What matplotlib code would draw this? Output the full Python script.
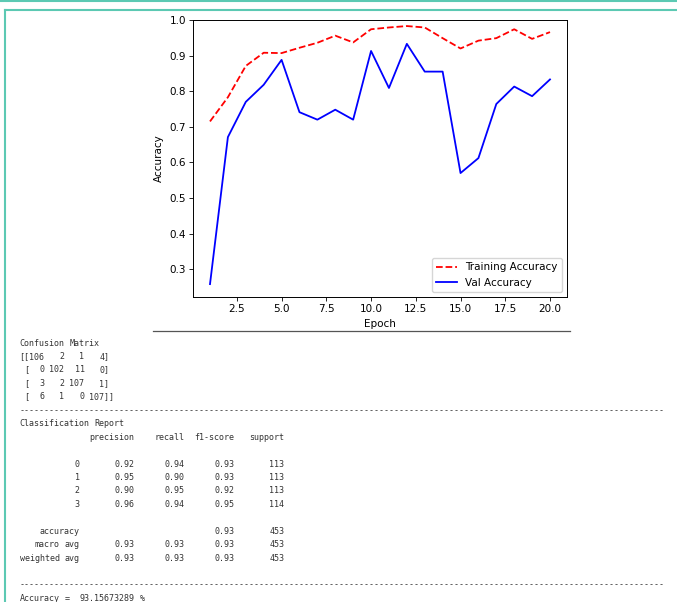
import re
import matplotlib
matplotlib.use("Agg")
import matplotlib.pyplot as plt
from matplotlib.lines import Line2D

# Données
epochs = list(range(1, 21))
train_acc = [0.715, 0.783, 0.871, 0.908, 0.907, 0.922, 0.936, 0.956, 0.937, 0.974,
             0.979, 0.983, 0.979, 0.949, 0.920, 0.942, 0.949, 0.974, 0.947, 0.966]
val_acc = [0.258, 0.671, 0.770, 0.818, 0.888, 0.741, 0.720, 0.748, 0.720, 0.913,
           0.809, 0.933, 0.855, 0.855, 0.570, 0.612, 0.764, 0.813, 0.786, 0.833]

conf_matrix = [[106, 2, 1, 4],
               [0, 102, 11, 0],
               [3, 2, 107, 1],
               [6, 1, 0, 107]]

classes = ["0", "1", "2", "3"]
precision = [0.92, 0.95, 0.90, 0.96]
recall = [0.94, 0.90, 0.95, 0.94]
f1 = [0.93, 0.93, 0.92, 0.95]
support = [113, 113, 113, 114]
avg_names = ["macro avg", "weighted avg"]
avg_precision = [0.93, 0.93]
avg_recall = [0.93, 0.93]
avg_f1 = [0.93, 0.93]
total_support = 453
overall_acc = 0.93
accuracy_pct = "93.15673289"

W, H = 677, 602
fig = plt.figure(figsize=(W / 100, H / 100), dpi=100)

def fx(x):
    return x / W

def fy(y):
    return 1 - y / H

# Bordures de cellule (style notebook)
teal = "#5cc9b3"
fig.add_artist(Line2D([0, 1], [fy(1), fy(1)], color=teal, lw=1.5, transform=fig.transFigure))
fig.add_artist(Line2D([fx(5), 1], [fy(10), fy(10)], color=teal, lw=1.5, transform=fig.transFigure))
fig.add_artist(Line2D([fx(5.5), fx(5.5)], [fy(10), 0], color=teal, lw=1.5, transform=fig.transFigure))
fig.add_artist(Line2D([fx(153), fx(570)], [fy(331), fy(331)], color="#555555", lw=0.9,
                      transform=fig.transFigure))

# Graphique
ax = fig.add_axes([fx(193), fy(297), fx(567) - fx(193), fy(20) - fy(297)])
ax.plot(epochs, train_acc, color="red", linestyle="--", lw=1.3, label="Training Accuracy")
ax.plot(epochs, val_acc, color="blue", linestyle="-", lw=1.3, label="Val Accuracy")
ax.set_ylim(top=1.0)
ax.set_xlabel("Epoch", fontsize=7.5, labelpad=3.5)
ax.set_ylabel("Accuracy", fontsize=7.5, labelpad=4)
ax.tick_params(labelsize=7.5, length=2.8, width=0.6, pad=2)
for s in ax.spines.values():
    s.set_linewidth(0.7)
ax.legend(loc="lower right", fontsize=7.5)

# Texte de sortie (format console)
lines = ["Confusion Matrix"]
for i, row in enumerate(conf_matrix):
    s = " ".join(f"{v:3d}" for v in row)
    pre = "[[" if i == 0 else " ["
    post = "]]" if i == len(conf_matrix) - 1 else "]"
    lines.append(pre + s + post)
lines.append("-" * 129)
lines.append("Classification Report")
lines.append(f"{'':>12}  {'precision':>9} {'recall':>9} {'f1-score':>9} {'support':>9}")
lines.append("")
for c, p, r, f, n in zip(classes, precision, recall, f1, support):
    lines.append(f"{c:>12}  {p:>9.2f} {r:>9.2f} {f:>9.2f} {n:>9d}")
lines.append("")
lines.append(f"{'accuracy':>12}  {'':>9} {'':>9} {overall_acc:>9.2f} {total_support:>9d}")
for a, p, r, f in zip(avg_names, avg_precision, avg_recall, avg_f1):
    lines.append(f"{a:>12}  {p:>9.2f} {r:>9.2f} {f:>9.2f} {total_support:>9d}")
lines.append("")
lines.append("-" * 129)
lines.append(f"Accuracy =  {accuracy_pct} %")

x0, cw = 19.5, 5.0
y0, dy = 343, 13.45
for k, ln in enumerate(lines):
    y = fy(y0 + k * dy)
    # chaque mot placé sur sa colonne (pas de 5 px)
    for m in re.finditer(r"\S+", ln):
        fig.text(fx(x0 + m.start() * cw), y, m.group(0), family="DejaVu Sans Mono",
                 fontsize=6.0, color="#333333", va="center", ha="left")

fig.savefig("out.png", dpi=100)
